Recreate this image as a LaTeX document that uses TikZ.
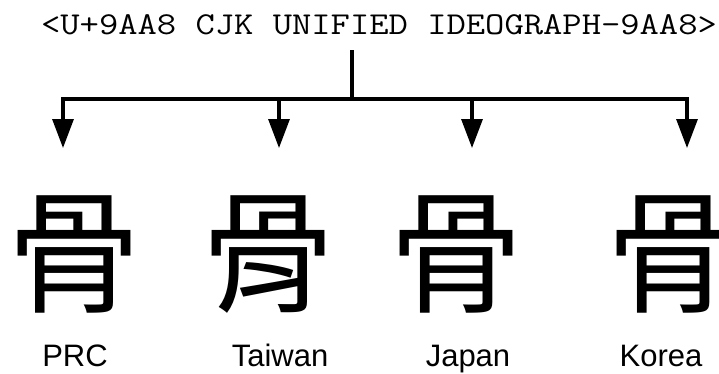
\documentclass[tikz,border=0pt]{standalone}
\usepackage{fontspec}
\usepackage{graphicx}
\usetikzlibrary{arrows.meta}
\setmainfont{Liberation Sans}
\newfontfamily\cjksc{Noto Sans CJK SC}
\newfontfamily\cjktc{Noto Sans CJK TC}
\newfontfamily\cjkjp{Noto Sans CJK JP}
\newfontfamily\cjkkr{Noto Sans CJK KR}
\tikzset{
  conn/.style={line width=3.2pt, black},
  arr/.style={conn, -{Triangle[length=29pt,width=21pt]}},
  glyph/.style={anchor=base, inner sep=0pt, font=\fontsize{134}{134}\selectfont},
  lbl/.style={anchor=base, inner sep=0pt, font=\fontsize{31}{31}\selectfont},
  ttl/.style={anchor=base, inner sep=0pt, font=\ttfamily\fontsize{37.5}{37.5}\selectfont}
}
\begin{document}
\begin{tikzpicture}[x=1pt,y=-1pt]
\useasboundingbox (0,0) rectangle (719,373);
\node[ttl] (title) at (379,34) {\scalebox{1}[0.85]{<U+9AA8 CJK UNIFIED IDEOGRAPH-9AA8>}};
\coordinate (stemtop) at (352,50);
\coordinate (hub) at (352,99);
\coordinate (a1) at (63,148);
\coordinate (a2) at (279,148);
\coordinate (a3) at (472,148);
\coordinate (a4) at (687,148);
\draw[conn] (stemtop) -- (hub);
\draw[conn, {Triangle[length=29pt,width=21pt]}-{Triangle[length=29pt,width=21pt]}] (a1) -- (a1 |- hub) -- (a4 |- hub) -- (a4);
\draw[arr] (a2 |- hub) -- (a2);
\draw[arr] (a3 |- hub) -- (a3);
\node[glyph] (g1) at (75,302) {\cjksc 骨};
\node[glyph] (g2) at (268,302) {\cjktc 骨};
\node[glyph] (g3) at (456,302) {\cjkjp 骨};
\node[glyph] (g4) at (673,302) {\cjkkr 骨};
\node[lbl] (l1) at (75,366) {PRC};
\node[lbl] (l2) at (280,366) {Taiwan};
\node[lbl] (l3) at (468,366) {Japan};
\node[lbl] (l4) at (661,366) {Korea};
\end{tikzpicture}
\end{document}
